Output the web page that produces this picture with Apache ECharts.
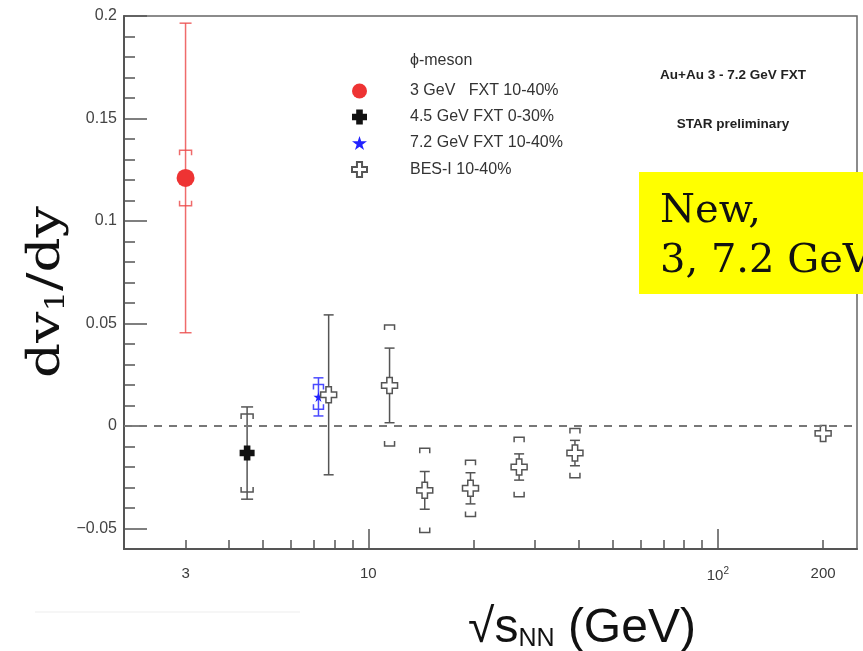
<!DOCTYPE html>
<html>
<head>
<meta charset="utf-8">
<script src="https://cdn.jsdelivr.net/npm/echarts@6/dist/echarts.min.js"></script>
<style>
html, body { margin: 0; padding: 0; background: #ffffff; }
#chart { width: 863px; height: 651px; }
</style>
</head>
<body>
<div id="chart"></div>
<script>
// phi-meson dv1/dy slope versus collision energy (STAR)

// 3 GeV FXT 10-40%
const fxt3Energy = [3];
const fxt3Slope = [0.121];
const fxt3Stat = [0.0755];
const fxt3Sys = [0.0135];

// 4.5 GeV FXT 0-30%
const fxt45Energy = [4.5];
const fxt45Slope = [-0.0132];
const fxt45Stat = [0.0225];
const fxt45Sys = [0.019];

// 7.2 GeV FXT 10-40%
const fxt72Energy = [7.2];
const fxt72Slope = [0.0142];
const fxt72Stat = [0.0093];
const fxt72Sys = [0.006];

// BES-I 10-40%
const besEnergy = [7.7, 11.5, 14.5, 19.6, 27, 39, 200];
const besSlope = [0.0152, 0.0198, -0.0314, -0.0304, -0.0200, -0.0132, -0.0036];
const besStat = [0.039, 0.0182, 0.0092, 0.0076, 0.0064, 0.0062, 0.0010];
const besSys = [0, 0.0295, 0.0206, 0.0137, 0.0145, 0.0120, 0];

// axis ticks and labels
const xLabelValues = [3, 10, 100, 200];
const xMajorTicks = [10, 100];
const xMinorTicks = [3, 4, 5, 6, 7, 8, 9, 20, 30, 40, 50, 60, 70, 80, 90, 200];
const yLabelValues = [-0.05, 0, 0.05, 0.1, 0.15, 0.2];
const yMinorTicks = [-0.04, -0.03, -0.02, -0.01, 0.01, 0.02, 0.03, 0.04,
  0.06, 0.07, 0.08, 0.09, 0.11, 0.12, 0.13, 0.14, 0.16, 0.17, 0.18, 0.19];

const seriesNames = ['3 GeV   FXT 10-40%', '4.5 GeV FXT 0-30%', '7.2 GeV FXT 10-40%', 'BES-I 10-40%'];

function rows(energy, slope, stat, sys) {
  return energy.map((e, i) => [e, slope[i], stat[i], sys[i]]);
}

const crossPath = 'path://M3.3,0H6.7V3.3H10V6.7H6.7V10H3.3V6.7H0V3.3H3.3Z';
const fatCrossPath = 'path://M2.8,0H7.2V2.8H10V7.2H7.2V10H2.8V7.2H0V2.8H2.8Z';
const starPath = 'path://M50,0L61,35L98,35L68,57L79,91L50,70L21,91L32,57L2,35L39,35Z';

function errorBars(color, capHalf, bracketHalf) {
  return function (params, api) {
    const x = api.value(0), y = api.value(1), st = api.value(2), sy = api.value(3);
    const style = { stroke: color, lineWidth: 1.5, fill: null };
    const children = [];
    if (st > 0) {
      const a = api.coord([x, y + st]);
      const b = api.coord([x, y - st]);
      children.push({ type: 'line', shape: { x1: a[0], y1: a[1], x2: b[0], y2: b[1] }, style: style });
      children.push({ type: 'line', shape: { x1: a[0] - capHalf, y1: a[1], x2: a[0] + capHalf, y2: a[1] }, style: style });
      children.push({ type: 'line', shape: { x1: b[0] - capHalf, y1: b[1], x2: b[0] + capHalf, y2: b[1] }, style: style });
    }
    if (sy > 0) {
      const t = api.coord([x, y + sy]);
      const u = api.coord([x, y - sy]);
      const leg = 5;
      children.push({ type: 'polyline', shape: { points: [[t[0] - bracketHalf, t[1] + leg], [t[0] - bracketHalf, t[1]], [t[0] + bracketHalf, t[1]], [t[0] + bracketHalf, t[1] + leg]] }, style: style });
      children.push({ type: 'polyline', shape: { points: [[u[0] - bracketHalf, u[1] - leg], [u[0] - bracketHalf, u[1]], [u[0] + bracketHalf, u[1]], [u[0] + bracketHalf, u[1] - leg]] }, style: style });
    }
    return { type: 'group', children: children };
  };
}

function errorSeries(data, color, capHalf, bracketHalf, extra) {
  return Object.assign({
    type: 'custom',
    xAxisIndex: 0,
    yAxisIndex: 0,
    renderItem: errorBars(color, capHalf, bracketHalf),
    encode: { x: 0, y: 1 },
    data: data,
    z: 2,
    silent: true
  }, extra || {});
}

const fxt3Rows = rows(fxt3Energy, fxt3Slope, fxt3Stat, fxt3Sys);
const fxt45Rows = rows(fxt45Energy, fxt45Slope, fxt45Stat, fxt45Sys);
const fxt72Rows = rows(fxt72Energy, fxt72Slope, fxt72Stat, fxt72Sys);
const besRows = rows(besEnergy, besSlope, besStat, besSys);

const axisColor = '#555555';
const labelFont = 'Liberation Sans, Arial, sans-serif';
const serifFont = 'DejaVu Serif, serif';

function yLabel(v) {
  if (v === 0) return '0';
  if (v < 0) return '\u2212' + String(Math.abs(v));
  return String(v);
}

const chart = echarts.init(document.getElementById('chart'), null, { renderer: 'canvas' });

chart.setOption({
  animation: false,
  backgroundColor: '#ffffff',
  grid: {
    left: 124, right: 6, top: 16, bottom: 102,
    show: true, borderColor: '#666666', borderWidth: 1.5, backgroundColor: 'transparent'
  },
  xAxis: [
    {
      type: 'log', logBase: 10, min: 2, max: 250,
      axisLine: { show: true, onZero: false, lineStyle: { color: axisColor, width: 2 } },
      axisTick: { show: true, inside: true, length: 20, customValues: xMajorTicks, lineStyle: { color: axisColor, width: 1.5 } },
      axisLabel: {
        customValues: xLabelValues,
        margin: 17,
        color: '#3a3a3a', fontSize: 15, fontFamily: labelFont,
        formatter: function (v) { return v === 100 ? '10{sup|2}' : String(v); },
        rich: { sup: { fontSize: 10, verticalAlign: 'top', padding: [0, 0, 9, 0], color: '#3a3a3a', fontFamily: labelFont } }
      },
      splitLine: { show: false }
    },
    {
      type: 'log', logBase: 10, min: 2, max: 250, gridIndex: 0, position: 'bottom',
      axisLine: { show: false, onZero: false },
      axisTick: { show: true, inside: true, length: 9, customValues: xMinorTicks, lineStyle: { color: axisColor, width: 1.5 } },
      axisLabel: { show: false },
      splitLine: { show: false }
    }
  ],
  yAxis: [
    {
      type: 'value', min: -0.06, max: 0.2,
      axisLine: { show: true, onZero: false, lineStyle: { color: axisColor, width: 2 } },
      axisTick: { show: true, inside: true, length: 23, customValues: yLabelValues, lineStyle: { color: axisColor, width: 1.5 } },
      axisLabel: {
        customValues: yLabelValues,
        margin: 7,
        color: '#444444', fontSize: 16, fontFamily: labelFont,
        formatter: yLabel
      },
      splitLine: { show: false }
    },
    {
      type: 'value', min: -0.06, max: 0.2, gridIndex: 0, position: 'left',
      axisLine: { show: false, onZero: false },
      axisTick: { show: true, inside: true, length: 11, customValues: yMinorTicks, lineStyle: { color: axisColor, width: 1.5 } },
      axisLabel: { show: false },
      splitLine: { show: false }
    }
  ],
  legend: {
    orient: 'vertical',
    left: 346, top: 78,
    itemWidth: 15, itemHeight: 15, itemGap: 10,
    selectedMode: false,
    data: seriesNames,
    textStyle: { color: '#333333', fontSize: 16, fontFamily: labelFont, lineHeight: 16, padding: [0, 0, 0, 38] }
  },
  series: [
    errorSeries(besRows, '#555555', 5, 5, {
      markLine: {
        silent: true, symbol: 'none', label: { show: false },
        lineStyle: { color: '#777777', type: [8, 7], width: 2 },
        data: [{ yAxis: 0 }]
      }
    }),
    errorSeries(fxt45Rows, '#555555', 6, 6),
    errorSeries(fxt72Rows, '#4a4aff', 5, 5),
    errorSeries(fxt3Rows, 'rgba(235,70,70,0.8)', 6, 6),
    {
      name: seriesNames[3], type: 'scatter', xAxisIndex: 0, yAxisIndex: 0,
      data: besRows.map(r => [r[0], r[1]]),
      symbol: crossPath, symbolSize: 16, z: 4,
      itemStyle: { color: '#ffffff', borderColor: '#555555', borderWidth: 1.5, opacity: 1 }
    },
    {
      name: seriesNames[1], type: 'scatter', xAxisIndex: 0, yAxisIndex: 0,
      data: fxt45Rows.map(r => [r[0], r[1]]),
      symbol: fatCrossPath, symbolSize: 15, z: 4,
      itemStyle: { color: '#111111', opacity: 1 }
    },
    {
      name: seriesNames[2], type: 'scatter', xAxisIndex: 0, yAxisIndex: 0,
      data: fxt72Rows.map(r => [r[0], r[1]]),
      symbol: starPath, symbolSize: 10, z: 3,
      itemStyle: { color: '#2222ff', opacity: 1 }
    },
    {
      name: seriesNames[0], type: 'scatter', xAxisIndex: 0, yAxisIndex: 0,
      data: fxt3Rows.map(r => [r[0], r[1]]),
      symbol: 'circle', symbolSize: 18, z: 4,
      itemStyle: { color: '#ee3333', opacity: 1 }
    }
  ],
  graphic: [
    {
      type: 'text', left: 410, top: 53, z: 10, silent: true,
      style: { text: '\u03d5-meson', fill: '#333333', font: '16px ' + labelFont }
    },
    {
      type: 'text', x: 733, y: 75, z: 10, silent: true,
      style: { text: 'Au+Au 3 - 7.2 GeV FXT', fill: '#222222', font: 'bold 13.5px ' + labelFont, align: 'center', verticalAlign: 'middle' }
    },
    {
      type: 'text', x: 733, y: 124, z: 10, silent: true,
      style: { text: 'STAR preliminary', fill: '#222222', font: 'bold 13.5px ' + labelFont, align: 'center', verticalAlign: 'middle' }
    },
    {
      type: 'rect', z: 20, silent: true,
      shape: { x: 639, y: 172, width: 240, height: 122 },
      style: { fill: '#ffff00' }
    },
    {
      type: 'text', x: 660, y: 212, z: 21, silent: true,
      style: { text: 'New,', fill: '#111111', font: '40px ' + serifFont, verticalAlign: 'middle' }
    },
    {
      type: 'text', x: 660, y: 262, z: 21, silent: true,
      style: { text: '3, 7.2 GeV', fill: '#111111', font: '40px ' + serifFont, verticalAlign: 'middle' }
    },
    {
      type: 'text', x: 48, y: 292, rotation: Math.PI / 2, scaleX: 1.25, z: 10, silent: true,
      style: {
        text: 'dv{sub|1}/dy', fill: '#111111', font: '44px ' + serifFont,
        align: 'center', verticalAlign: 'middle',
        rich: { sub: { fontSize: 26, fontFamily: serifFont, fill: '#111111', padding: [18, 0, 0, 0] } }
      }
    },
    {
      type: 'text', x: 582, y: 629, z: 10, silent: true,
      style: {
        text: '\u221as{sub|NN} (GeV)', fill: '#111111', font: '48px ' + labelFont,
        align: 'center', verticalAlign: 'middle',
        rich: { sub: { fontSize: 25, fontFamily: labelFont, fill: '#111111', padding: [21, 0, 0, 0] } }
      }
    },
    {
      type: 'line', z: 1, silent: true,
      shape: { x1: 35, y1: 612, x2: 300, y2: 612 },
      style: { stroke: '#f3f3f3', lineWidth: 1.5 }
    }
  ]
});
</script>
</body>
</html>
